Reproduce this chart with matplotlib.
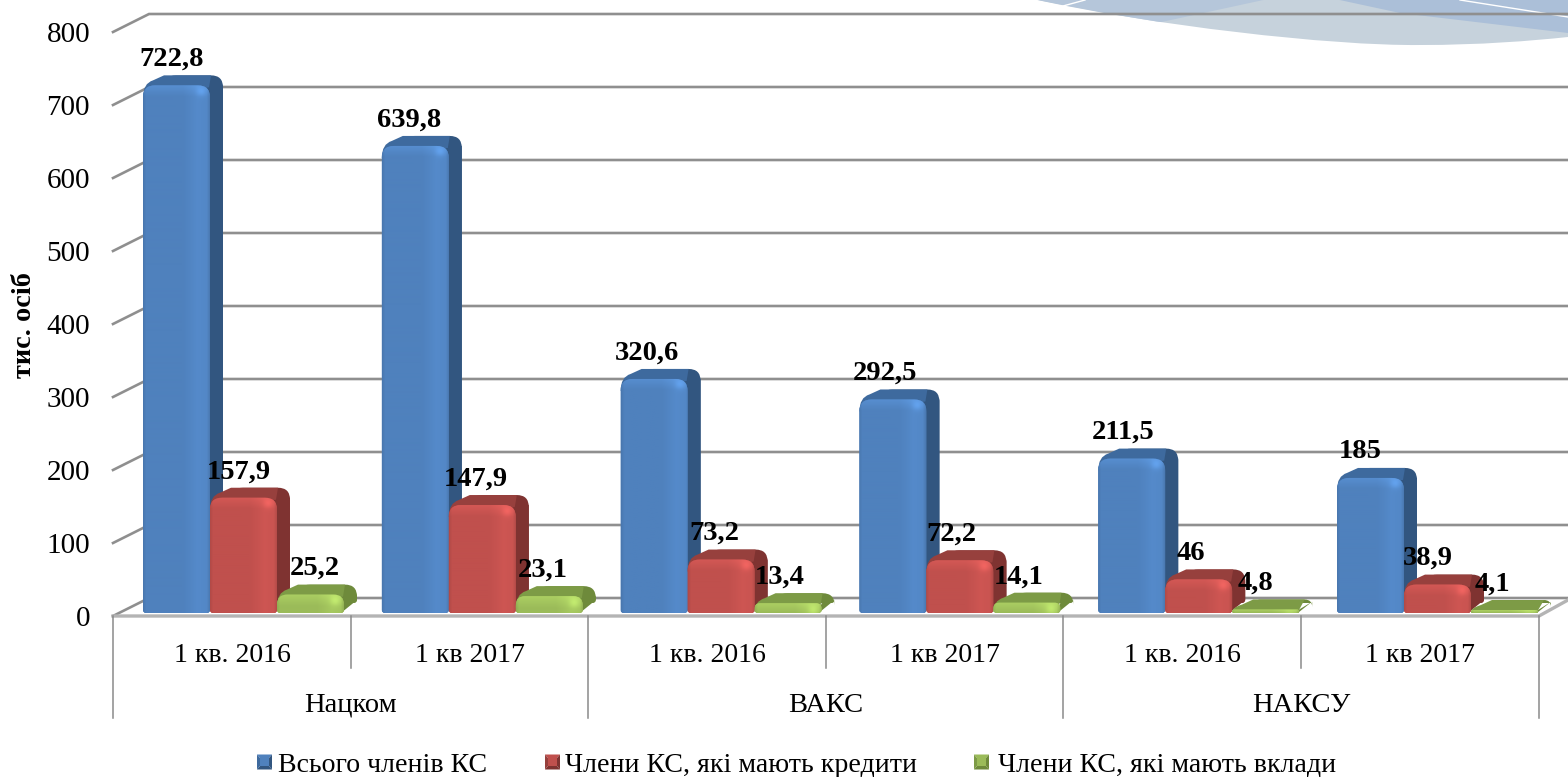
import numpy as np
import matplotlib
matplotlib.use("Agg")
import matplotlib.pyplot as plt
from matplotlib.path import Path
from matplotlib.patches import PathPatch, Polygon

plt.rcParams['font.family'] = ['Liberation Serif', 'DejaVu Sans']

# ---- data ----
periods = ["1 кв. 2016", "1 кв 2017", "1 кв. 2016", "1 кв 2017", "1 кв. 2016", "1 кв 2017"]
groups = ["Нацком", "ВАКС", "НАКСУ"]
series_names = ["Всього членів КС", "Члени КС, які мають кредити", "Члени КС, які мають вклади"]
total_members = [722.8, 639.8, 320.6, 292.5, 211.5, 185]
with_credits = [157.9, 147.9, 73.2, 72.2, 46, 38.9]
with_deposits = [25.2, 23.1, 13.4, 14.1, 4.8, 4.1]
total_labels = ["722,8", "639,8", "320,6", "292,5", "211,5", "185"]
credit_labels = ["157,9", "147,9", "73,2", "72,2", "46", "38,9"]
deposit_labels = ["25,2", "23,1", "13,4", "14,1", "4,8", "4,1"]
y_ticks = [0, 100, 200, 300, 400, 500, 600, 700, 800]

# ---- layout: data <-> pixels ----
W, H = 1568, 777
PX_X = 238.8      # pixels per category slot
PX_Y = 0.73       # pixels per unit of value
X0 = 243.5        # pixel of first cluster centre
Y0 = 616          # pixel of value 0 on the front axis
BAR_W = 67 / PX_X
DEPTH_X, DEPTH_Y = 13, 10
BASE_LIFT = 3

def X(px):
    return (px - X0) / PX_X

def Y(py):
    return (Y0 - py) / PX_Y

fig = plt.figure(figsize=(W / 100, H / 100), dpi=100, facecolor="white")
ax = fig.add_axes([0, 0, 1, 1])
ax.axis("off")
xlim = (X(0), X(W))
ylim = (Y(H), Y(0))

# ---- decorative swoosh, top right ----
sw_verts = [(X(1033), Y(-1)), (X(1150), Y(25)), (X(1330), Y(46)), (X(1420), Y(45)),
            (X(1480), Y(45)), (X(1530), Y(41)), (X(1568), Y(37)),
            (X(1568), Y(-1)), (X(1033), Y(-1))]
sw_codes = [Path.MOVETO, Path.CURVE4, Path.CURVE4, Path.CURVE4,
            Path.CURVE4, Path.CURVE4, Path.CURVE4, Path.LINETO, Path.CLOSEPOLY]
sw = PathPatch(Path(sw_verts, sw_codes), fc="#c6d2dc", ec="none", zorder=0.1)
ax.add_patch(sw)
for pts, col in (([(1030, -1), (1157, 23), (1268, -1)], "#b5c6da"),
                 ([(1335, -1), (1400, 13), (1568, 33), (1568, -1)], "#abbfd8")):
    p = Polygon([(X(a), Y(b)) for a, b in pts], fc=col, ec="none", zorder=0.2)
    ax.add_patch(p)
    p.set_clip_path(sw)
for pts in ([(1063, 6), (1085, 0)], [(1460, 0), (1568, 17)]):
    ax.plot([X(a) for a, b in pts], [Y(b) for a, b in pts], color="white", lw=1, zorder=0.3)

# ---- walls and floor ----
TXT = 3  # pixels: visual centre of text sits below the anchor with this font
for v in y_ticks:
    ax.plot([X(113), X(149), X(W)], [v, v + 18 / PX_Y, v + 18 / PX_Y],
            color="#8f8f8f", lw=1.9, solid_joinstyle="miter", zorder=1)
    ax.text(X(90), v - TXT / PX_Y, str(v), ha="right", va="center", fontsize=21, color="black", zorder=5)

ax.plot([X(113), X(1539), X(W)], [0, 0, 16 / PX_Y], color="#b4b4b4", lw=2.4, zorder=1)
for px, bottom in zip([113, 351, 588, 826, 1063, 1301, 1539],
                      [718, 668, 718, 668, 718, 668, 718]):
    ax.plot([X(px), X(px)], [0, Y(bottom)], color="#8a8a8a", lw=1.1, zorder=1.2)

for px, lab in zip([232, 470, 707, 945, 1182, 1420], periods):
    ax.text(X(px), Y(652 + TXT), lab, ha="center", va="center", fontsize=20, color="black")
for px, lab in zip([350, 826, 1301], groups):
    ax.text(X(px), Y(702 + TXT), lab, ha="center", va="center", fontsize=20.5, color="black")

ax.text(X(24), Y(325), "тис. осіб", rotation=90, ha="center", va="center",
        fontsize=20.3, fontweight="bold", color="black")

# ---- bars ----
def rgb(hexstr):
    return np.array(matplotlib.colors.to_rgb(hexstr))

palette = [
    dict(front="#4f81bd", side="#325680", top="#3e6a9e"),
    dict(front="#c0504d", side="#7f3331", top="#97403d"),
    dict(front="#9bbb59", side="#6e8a3b", top="#7d9b46"),
]

def rounded_rect(x0, x1, y0, y1, rx, ry, rbx, rby):
    """Rounded rectangle in data coordinates; top corners (rx,ry), bottom (rbx,rby)."""
    verts = [(x0, y0 + rby), (x0, y1 - ry), (x0, y1), (x0 + rx, y1),
             (x1 - rx, y1), (x1, y1), (x1, y1 - ry), (x1, y0 + rby),
             (x1, y0), (x1 - rbx, y0), (x0 + rbx, y0), (x0, y0), (x0, y0 + rby), (x0, y0 + rby)]
    codes = [Path.MOVETO, Path.LINETO, Path.CURVE3, Path.CURVE3,
             Path.LINETO, Path.CURVE3, Path.CURVE3, Path.LINETO,
             Path.CURVE3, Path.CURVE3, Path.LINETO, Path.CURVE3, Path.CURVE3, Path.CLOSEPOLY]
    return Path(verts, codes)

def draw_bar(xc, value, colors, z):
    x0, x1 = xc - BAR_W / 2, xc + BAR_W / 2
    y0 = BASE_LIFT / PX_Y
    y1 = y0 + value
    ddx, ddy = DEPTH_X / PX_X, DEPTH_Y / PX_Y
    px_x, px_y = 1 / PX_X, 1 / PX_Y
    h_px = value * PX_Y
    r = min(12, max(2, h_px * 0.55))
    rx, ry = r * px_x, r * px_y
    rb = min(3, max(1, h_px * 0.4))
    rbx, rby = rb * px_x, rb * px_y

    # side and back
    rr = min(12, max(4, h_px + 4))
    back = rounded_rect(x0 + ddx + 8 * px_x, x1 + ddx, y0 + ddy, y1 + ddy,
                        rr * px_x, rr * px_y, rbx, rby)
    ax.add_patch(PathPatch(back, fc=colors["side"], ec="none", zorder=z))
    side_top = max(y1, y0 + ddy + rby)
    ax.add_patch(Polygon([(x1 - rbx, y0), (x1 + ddx, y0 + ddy + rby), (x1 + ddx, side_top), (x1, y1)],
                         fc=colors["side"], ec="none", zorder=z))
    # top face with a curved front-left shoulder
    start_y = max(y0 + 1 * px_y, y1 - 12 * px_y)
    top_verts = [(x0, start_y), (x0, y1 + 2 * px_y), (x0 + 10 * px_x, y1 + 5 * px_y),
                 (x0 + ddx + 8 * px_x, y1 + ddy), (x1 + ddx - rr * px_x, y1 + ddy),
                 (x1 - 1 * px_x, y1 - 2 * px_y), (x0, start_y)]
    top_codes = [Path.MOVETO, Path.CURVE3, Path.CURVE3, Path.LINETO, Path.LINETO,
                 Path.LINETO, Path.CLOSEPOLY]
    ax.add_patch(PathPatch(Path(top_verts, top_codes), fc=colors["top"], ec="none", zorder=z + 0.1))

    # front with gradient and corner highlight
    front = PathPatch(rounded_rect(x0, x1, y0, y1, rx, ry, rbx, rby),
                      fc=colors["front"], ec="none", zorder=z + 0.2)
    ax.add_patch(front)
    rows = max(int(h_px), 2)
    hpos = np.linspace(0, 1, 67)
    hshade = np.interp(hpos, [0, 0.04, 0.6, 0.82, 0.96, 1], [0.93, 1.0, 1.0, 1.07, 1.05, 0.95])
    vshade = np.ones(rows)
    band = min(rows, 12)
    vshade[:band] = np.linspace(1.1, 1.0, band)
    shade = np.outer(vshade, hshade)
    yy, xx = np.mgrid[0:rows, 0:67]
    shade = shade + 0.14 * np.exp(-(((xx - 58) / 5.0) ** 2 + ((yy - 6) / 5.0) ** 2))
    arr = np.clip(shade[..., None] * rgb(colors["front"]), 0, 1)
    im = ax.imshow(arr, extent=(x0, x1, y0, y1), origin="upper", aspect="auto",
                   interpolation="bilinear", zorder=z + 0.3)
    im.set_clip_path(front)

series = [total_members, with_credits, with_deposits]
series_labels = [total_labels, credit_labels, deposit_labels]
# horizontal nudge (pixels) of the value labels relative to their bars
label_nudges = [[-5, -6, -7, -8, -9, -10],
                [-5, -6, -7, -8, -8, -10],
                [4, -7, -8, -8, -10, -12]]
for i in range(len(periods)):
    for s in range(3):
        xc = i + (s - 1) * BAR_W
        v = series[s][i]
        draw_bar(xc, v, palette[s], 2 + i + s * 0.25)
        ax.annotate(series_labels[s][i], xy=(xc, v + BASE_LIFT / PX_Y),
                    xytext=(label_nudges[s][i] * 0.72, 26 * 0.72), textcoords="offset points",
                    ha="center", va="center", fontsize=20.5, fontweight="bold",
                    color="black", zorder=20)

# ---- legend ----
def legend_marker(px, py, c):
    s = 15
    corners = [(px, py - s / 2), (px + s, py - s / 2), (px + s, py + s / 2), (px, py + s / 2)]
    centre_box = [(px + 3, py - 4), (px + s - 3, py - 4), (px + s - 3, py + 4), (px + 3, py + 4)]
    shades = [c["front"], c["side"], c["side"], c["top"]]
    for k in range(4):
        a, b = corners[k], corners[(k + 1) % 4]
        d, e = centre_box[(k + 1) % 4], centre_box[k]
        ax.add_patch(Polygon([(X(q[0]), Y(q[1])) for q in (a, b, d, e)],
                             fc=shades[k], ec="none", zorder=6))
    ax.add_patch(Polygon([(X(q[0]), Y(q[1])) for q in centre_box],
                         fc=c["front"], ec="none", zorder=6))

for px, tx, name, c in zip([257, 545, 974], [278, 565, 998], series_names, palette):
    legend_marker(px, 762, c)
    ax.text(X(tx), Y(762 + TXT), name, ha="left", va="center", fontsize=20.1, color="black")

ax.set_xlim(xlim)
ax.set_ylim(ylim)
fig.savefig("out.png", dpi=100, facecolor="white")
